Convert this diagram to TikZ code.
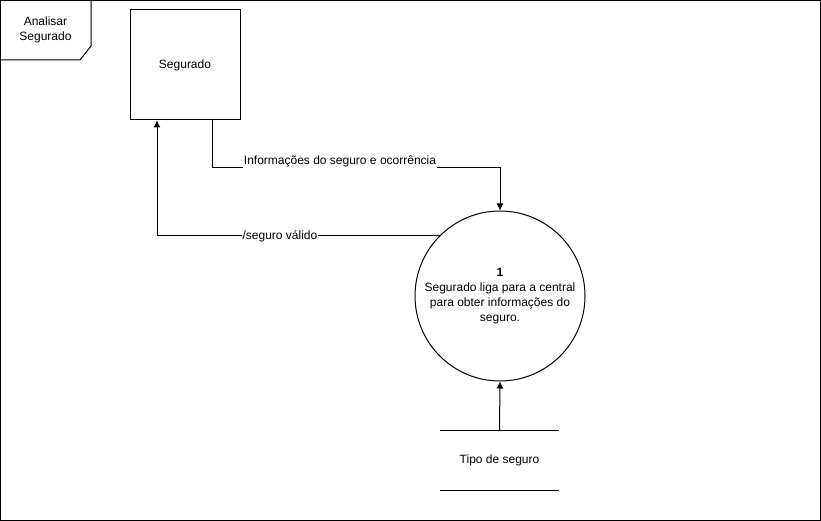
\documentclass[tikz,border=0pt]{standalone}
\usepackage{fontspec}
\setmainfont{Liberation Sans}
\usetikzlibrary{arrows.meta}
\begin{document}
\begin{tikzpicture}[x=1pt,y=-1pt,
  every node/.style={font=\fontsize{12}{15}\selectfont, inner sep=0pt},
  line/.style={draw=black, line width=1pt},
  flow/.style={line, -{Latex[length=7pt,width=7pt]}},
  flowlabel/.style={fill=white, inner sep=1pt}
]
\useasboundingbox (0,0) rectangle (821,521);
% frame of the pool
\draw[line] (0.5,0.5) rectangle (820.5,520.5);
\draw[line] (0.5,60) -- (80,60) -- (91,46) -- (91,0.5);
\node[align=center] (pool) at (45.5,30) {Analisar\\Segurado};

% external entity
\node[line, minimum width=110pt, minimum height=110pt] (seg) at (185,65) {Segurado};

% process
\node[line, circle, minimum size=170pt, align=center] (proc) at (500,296)
  {\textbf{1}\\Segurado liga para a central\\para obter informações do\\seguro.};

% data store
\node[minimum width=119pt, minimum height=60pt] (store) at (499.5,460.5) {Tipo de seguro};
\draw[line] (store.north west) -- (store.north east);
\draw[line] (store.south west) -- (store.south east);

% flows
\draw[flow] ([xshift=27pt]seg.south) -- ++(0,47) coordinate (k1) -| (proc.north);
\node[flowlabel] (l1) at (340,161) {Informações do seguro e ocorrência};
\draw[flow] (proc.135) -| ([xshift=-28pt]seg.south);
\node[flowlabel] (l2) at (280,236) {/seguro válido};
\draw[flow] (store.north) -- (proc.south);
\end{tikzpicture}
\end{document}
